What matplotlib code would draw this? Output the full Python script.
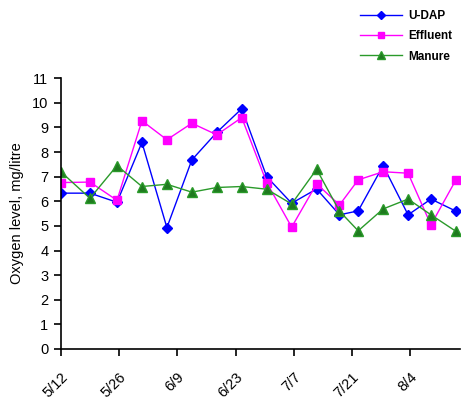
import matplotlib

matplotlib.use("Agg")
import matplotlib.pyplot as plt

# sampling days counted from 5/12
days = [0, 7, 13.5, 19.5, 25.5, 31.5, 37.5, 43.5, 49.5, 55.5, 61.5, 67, 71.5, 77.5, 83.5, 89, 95]

udap = [6.33, 6.33, 5.96, 8.39, 4.93, 7.68, 8.8, 9.76, 7.0, 5.92, 6.5, 5.45, 5.61, 7.45, 5.45, 6.09, 5.6]
effluent = [6.76, 6.78, 6.04, 9.27, 8.5, 9.17, 8.7, 9.4, 6.76, 4.95, 6.71, 5.85, 6.87, 7.2, 7.14, 5.04, 6.87]
manure = [7.2, 6.12, 7.45, 6.6, 6.69, 6.37, 6.56, 6.6, 6.49, 5.89, 7.3, 5.6, 4.8, 5.69, 6.09, 5.45, 4.78]

tick_days = [0, 14, 28, 42, 56, 70, 84]
tick_labels = ["5/12", "5/26", "6/9", "6/23", "7/7", "7/21", "8/4"]

plt.rcParams["font.family"] = ["Liberation Sans", "DejaVu Sans"]

fig = plt.figure(figsize=(4.61, 4.03), dpi=100)
ax = fig.add_axes([0.132, 0.134, 0.866, 0.672])

ax.plot(days, udap, color="#0000ff", lw=1.0, marker="D", ms=5.5,
        mfc="#0000ff", mec="#0000ff", label="U-DAP")
ax.plot(days, effluent, color="#ff00ff", lw=1.0, marker="s", ms=6,
        mfc="#ff00ff", mec="#ff00ff", label="Effluent")
ax.plot(days, manure, color="#2a9a2a", lw=1.0, marker="^", ms=6.5,
        mfc="#1f7a1f", mec="#2a9a2a", label="Manure")

ax.set_xlim(0, 96)
ax.set_ylim(0, 11)
ax.set_yticks(range(0, 12))
ax.set_xticks(tick_days)
ax.set_xticklabels(tick_labels, rotation=45, ha="right", va="top", rotation_mode="anchor")

for side in ("top", "right"):
    ax.spines[side].set_visible(False)
for side in ("left", "bottom"):
    ax.spines[side].set_linewidth(1.2)
ax.tick_params(axis="both", direction="out", length=5, width=1.2, labelsize=10.5, pad=4)
ax.tick_params(axis="x", pad=10)
ax.set_ylabel("Oxygen level, mg/litre", fontsize=10.5, labelpad=6)

fig.legend(loc="upper left", bbox_to_anchor=(0.781, 0.975), frameon=False,
           prop={"size": 8.5, "weight": "bold"}, handlelength=3.55, handletextpad=0.5,
           labelspacing=0.7, borderaxespad=0, borderpad=0, markerscale=0.8)

fig.savefig("out.png", dpi=100)
